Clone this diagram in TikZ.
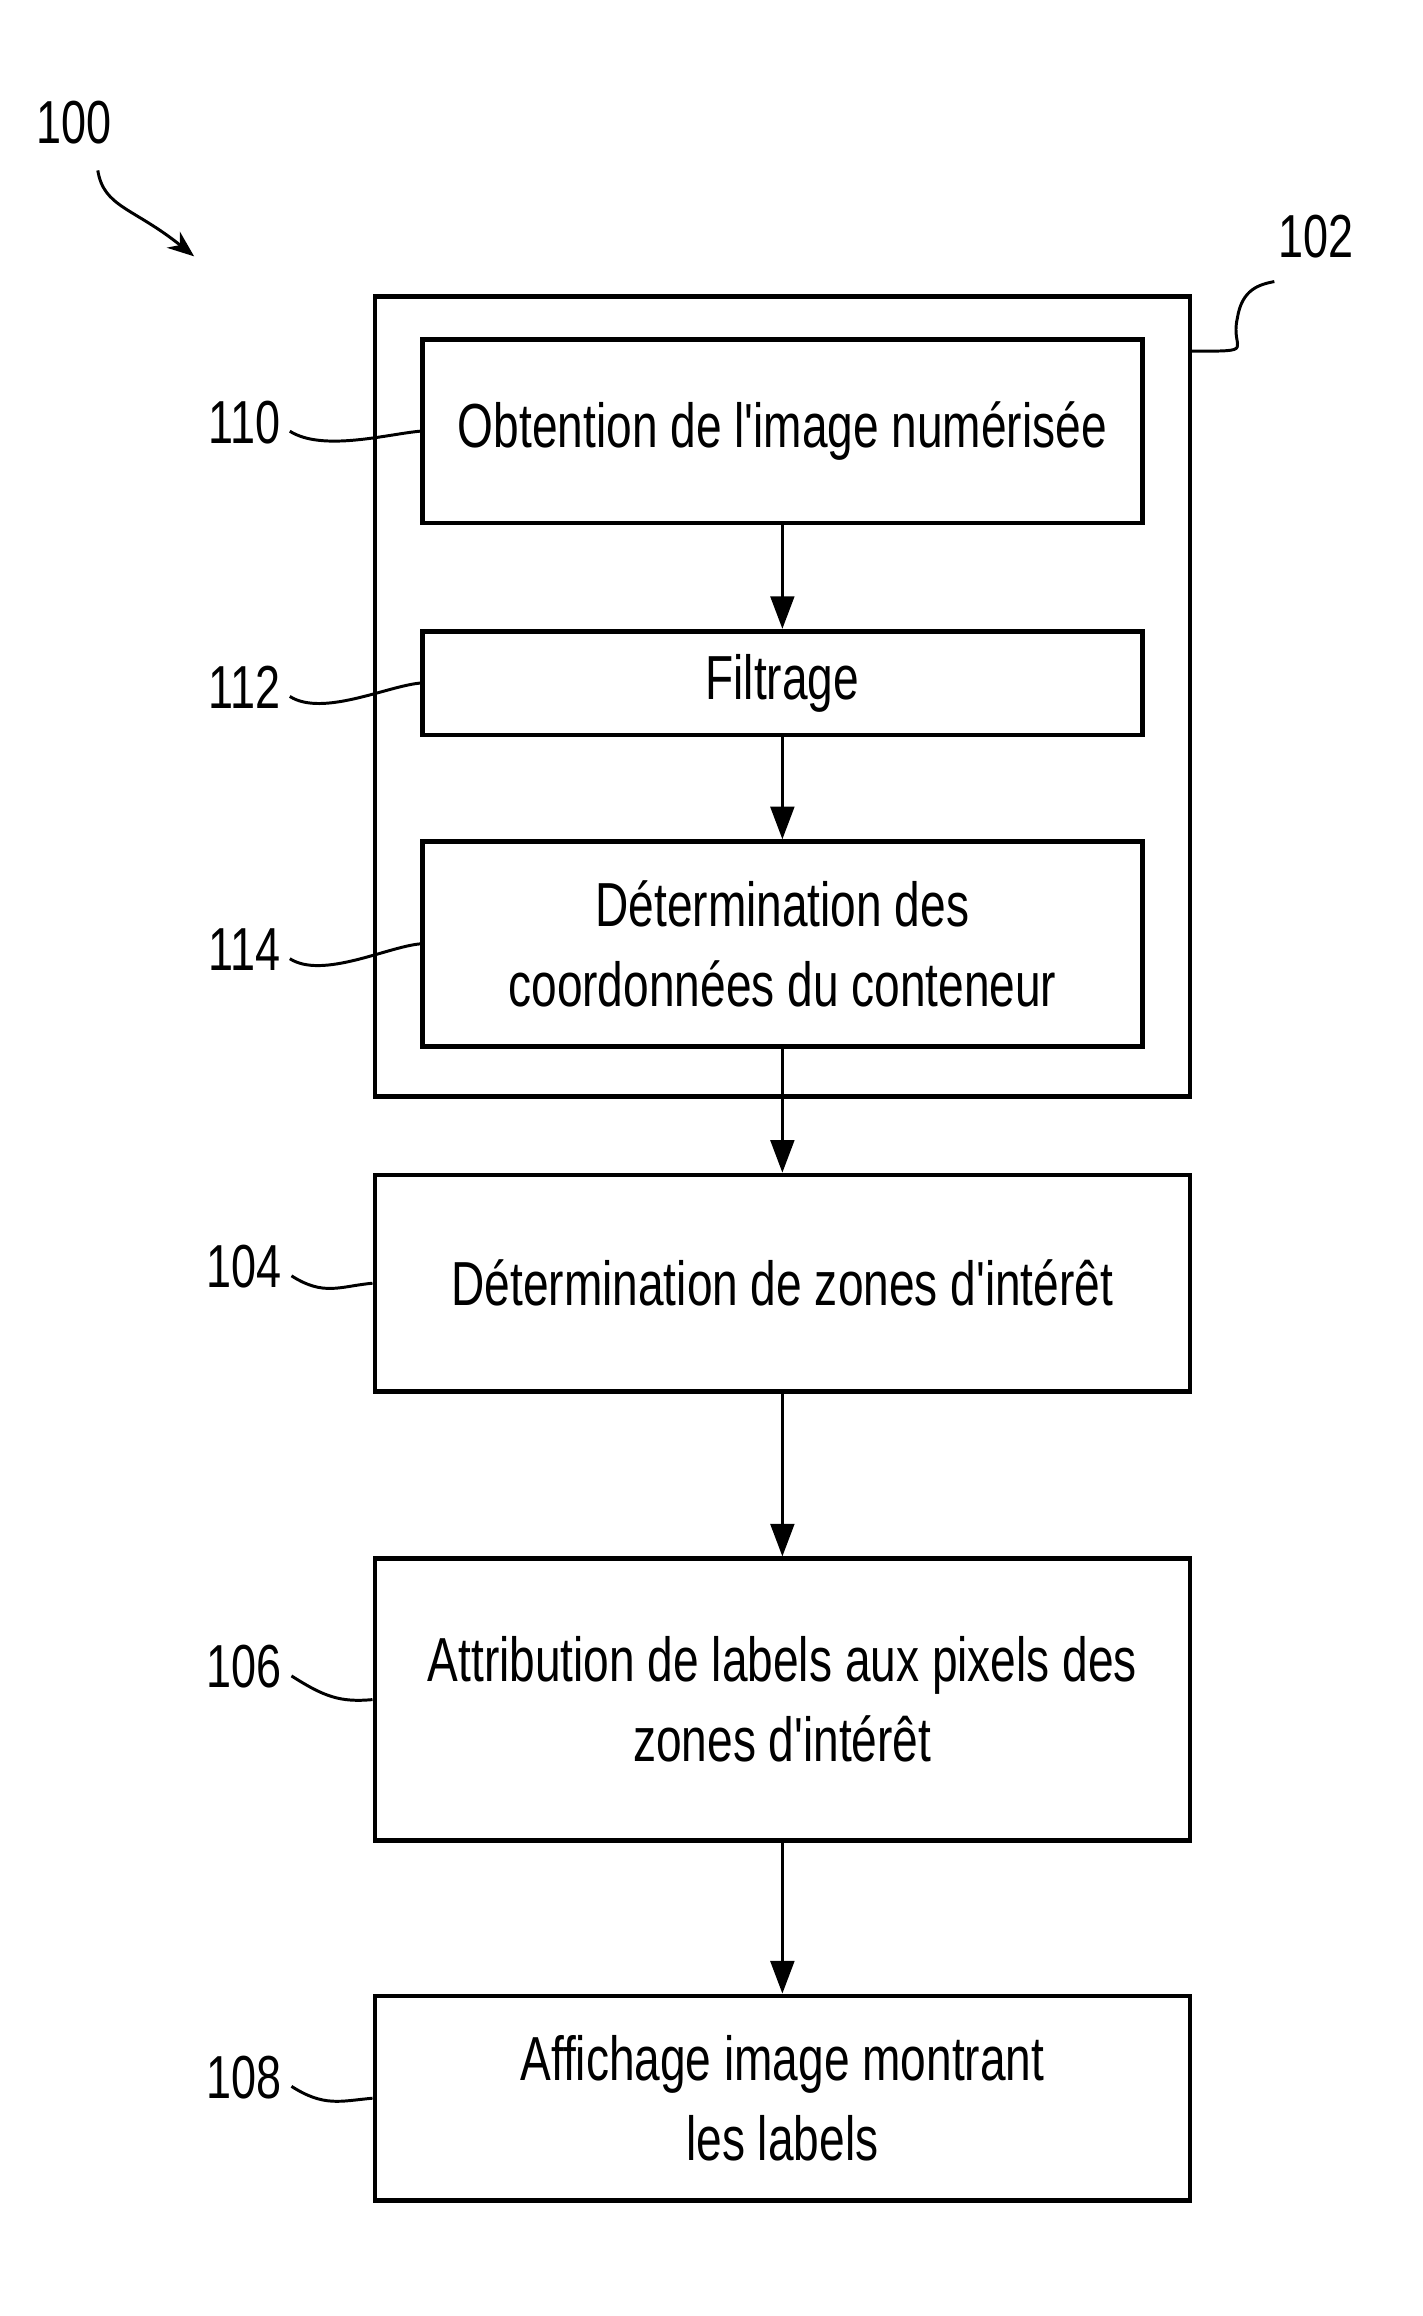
\documentclass[tikz,border=0pt]{standalone}
\usepackage{fontspec}
\setmainfont{Liberation Sans}[FakeStretch=0.74]
\newfontfamily\plainaq{Liberation Sans}[FakeStretch=0.74]
\usetikzlibrary{arrows.meta}
\newcommand{\aq}{{\plainaq '}}
\begin{document}
\begin{tikzpicture}[x=0.5pt,y=-0.5pt,
  box/.style={draw,line width=1.6pt,inner sep=0pt,align=center,font=\fontsize{21}{27}\selectfont},
  lbl/.style={font=\fontsize{20.5}{22}\selectfont,inner sep=1pt},
  arr/.style={-{Triangle[length=11pt,width=8pt]},line width=1pt},
  sq/.style={line width=1pt}]
\useasboundingbox (0,0) rectangle (960,1563);
\node[box,minimum width=275pt,minimum height=270pt] (outer) at (528,470) {};
\node[box,minimum width=243pt,minimum height=62pt] (b110) at (528,291) {Obtention de l\aq image numérisée};
\node[box,minimum width=243pt,minimum height=35pt] (b112) at (528,461) {Filtrage};
\node[box,minimum width=243pt,minimum height=69pt] (b114) at (528,637) {Détermination des\\coordonnées du conteneur};
\node[box,minimum width=275pt,minimum height=73pt] (b104) at (528,866) {Détermination de zones d\aq intérêt};
\node[box,minimum width=275pt,minimum height=95pt] (b106) at (528,1147) {Attribution de labels aux pixels des\\zones d\aq intérêt};
\node[box,minimum width=275pt,minimum height=69pt] (b108) at (528,1416) {Affichage image montrant\\les labels};
\draw[arr] (b110) -- (b112);
\draw[arr] (b112) -- (b114);
\draw[arr] (b114) -- (b104);
\draw[arr] (b104) -- (b106);
\draw[arr] (b106) -- (b108);
\node[lbl] (l100) at (50,83) {100};
\node[lbl] (l102) at (888,160) {102};
\node[lbl] (l110) at (165,285) {110};
\node[lbl] (l112) at (165,464) {112};
\node[lbl] (l114) at (165,641) {114};
\node[lbl] (l104) at (165,855) {104};
\node[lbl] (l106) at (165,1125) {106};
\node[lbl] (l108) at (165,1402) {108};
\coordinate (a0) at (66,115);
\coordinate (a1) at (131,173);
\draw[sq,-{Stealth[length=9pt,width=7pt]}] (a0) .. controls (70,140) and (90,140) .. (a1);
\coordinate (c102) at (860,190);
\draw[sq] (outer.north east |- 0,237) .. controls (850,237) and (830,237) .. (835,215) .. controls (838,195) and (850,192) .. (c102);
\foreach \n/\b in {110/b110,112/b112,114/b114,104/b104,106/b106,108/b108}{
  \draw[sq] ([xshift=2pt,yshift=-3pt]l\n.east) .. controls +(22,14) and +(-22,2) .. (\b.west);
}
\end{tikzpicture}
\end{document}
